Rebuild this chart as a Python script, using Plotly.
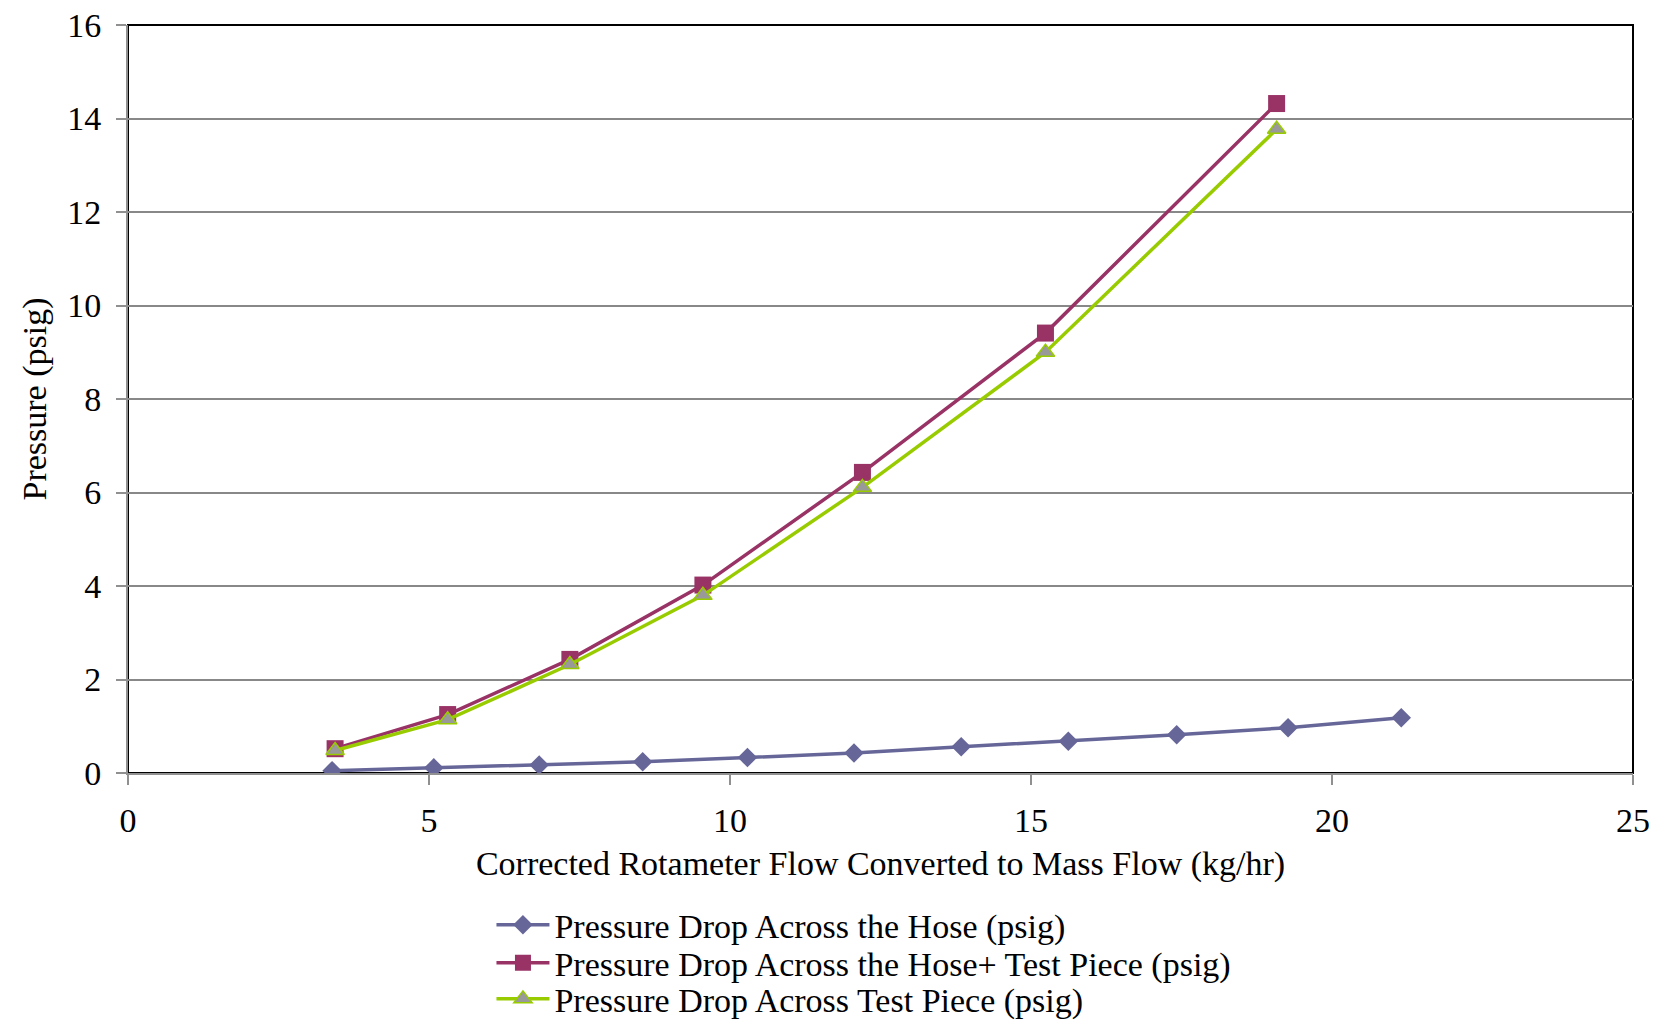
import plotly.graph_objects as go

# Data
hose_flow = [3.39, 5.08, 6.83, 8.55, 10.29, 12.06, 13.84, 15.62, 17.42, 19.27, 21.15]
hose_dp = [0.05, 0.11, 0.17, 0.24, 0.33, 0.43, 0.56, 0.68, 0.82, 0.97, 1.18]

test_flow = [3.44, 5.31, 7.34, 9.55, 12.20, 15.24, 19.08]
hose_test_dp = [0.52, 1.25, 2.43, 4.02, 6.43, 9.41, 14.32]
test_dp = [0.48, 1.14, 2.32, 3.80, 6.11, 9.00, 13.77]

x_ticks = [0, 5, 10, 15, 20, 25]
y_ticks = [0, 2, 4, 6, 8, 10, 12, 14, 16]

series_names = [
    "Pressure Drop Across the Hose (psig)",
    "Pressure Drop Across the Hose+ Test Piece (psig)",
    "Pressure Drop Across Test Piece (psig)",
]

FONT = "Liberation Serif, Times New Roman, serif"
FS = 34

fig = go.Figure()
fig.add_trace(go.Scatter(
    x=hose_flow, y=hose_dp, mode="lines+markers", name=series_names[0],
    line=dict(color="#666699", width=3.5),
    marker=dict(symbol="diamond", size=15, color="#666699"),
    legend="legend",
))
fig.add_trace(go.Scatter(
    x=test_flow, y=hose_test_dp, mode="lines+markers", name=series_names[1],
    line=dict(color="#993366", width=3.5),
    marker=dict(symbol="square", size=17, color="#993366"),
    legend="legend2",
))
fig.add_trace(go.Scatter(
    x=test_flow, y=test_dp, mode="lines+markers", name=series_names[2],
    line=dict(color="#99CC00", width=3.5),
    marker=dict(symbol="triangle-up", size=16, color="#999999",
                line=dict(color="#99CC00", width=1.5)),
    legend="legend3",
))

def leg(yc):
    return dict(
        x=0.2415, y=yc, xanchor="left", yanchor="middle",
        orientation="v", itemwidth=53, tracegroupgap=0,
        font=dict(family=FONT, size=FS, color="black"),
        bgcolor="rgba(0,0,0,0)",
    )

fig.update_layout(
    width=1667, height=1022,
    margin=dict(l=120, r=42, t=17, b=257, autoexpand=False),
    paper_bgcolor="white", plot_bgcolor="white",
    font=dict(family=FONT, size=FS, color="black"),
    showlegend=True,
    legend=leg(-0.2035),
    legend2=leg(-0.2543),
    legend3=leg(-0.3025),
    shapes=[dict(type="rect", xref="paper", yref="paper", x0=0, y0=0, x1=1, y1=1,
                 line=dict(color="black", width=2), layer="below")],
)

fig.update_xaxes(
    range=[0, 25], tickvals=x_ticks, ticktext=[str(v) for v in x_ticks],
    showgrid=False, zeroline=False, automargin=False,
    showline=True, linecolor="#909090", linewidth=2,
    ticks="outside", ticklen=10, tickcolor="#909090", tickwidth=2,
    ticklabelstandoff=6, ticklabeloverflow="allow",
    tickfont=dict(family=FONT, size=FS, color="black"),
    title=dict(text="Corrected Rotameter Flow Converted to Mass Flow (kg/hr)",
               font=dict(family=FONT, size=FS, color="black"), standoff=13),
)
fig.update_yaxes(
    range=[0, 16], tickvals=y_ticks, ticktext=[str(v) for v in y_ticks],
    showgrid=True, gridcolor="#888888", gridwidth=2, zeroline=False, automargin=False,
    showline=True, linecolor="#909090", linewidth=2,
    ticks="outside", ticklen=10, tickcolor="#909090", tickwidth=2,
    ticklabelstandoff=8, ticklabeloverflow="allow",
    tickfont=dict(family=FONT, size=FS, color="black"),
    title=dict(text="Pressure (psig)",
               font=dict(family=FONT, size=FS, color="black"), standoff=10),
)

fig.write_html("out.html")
